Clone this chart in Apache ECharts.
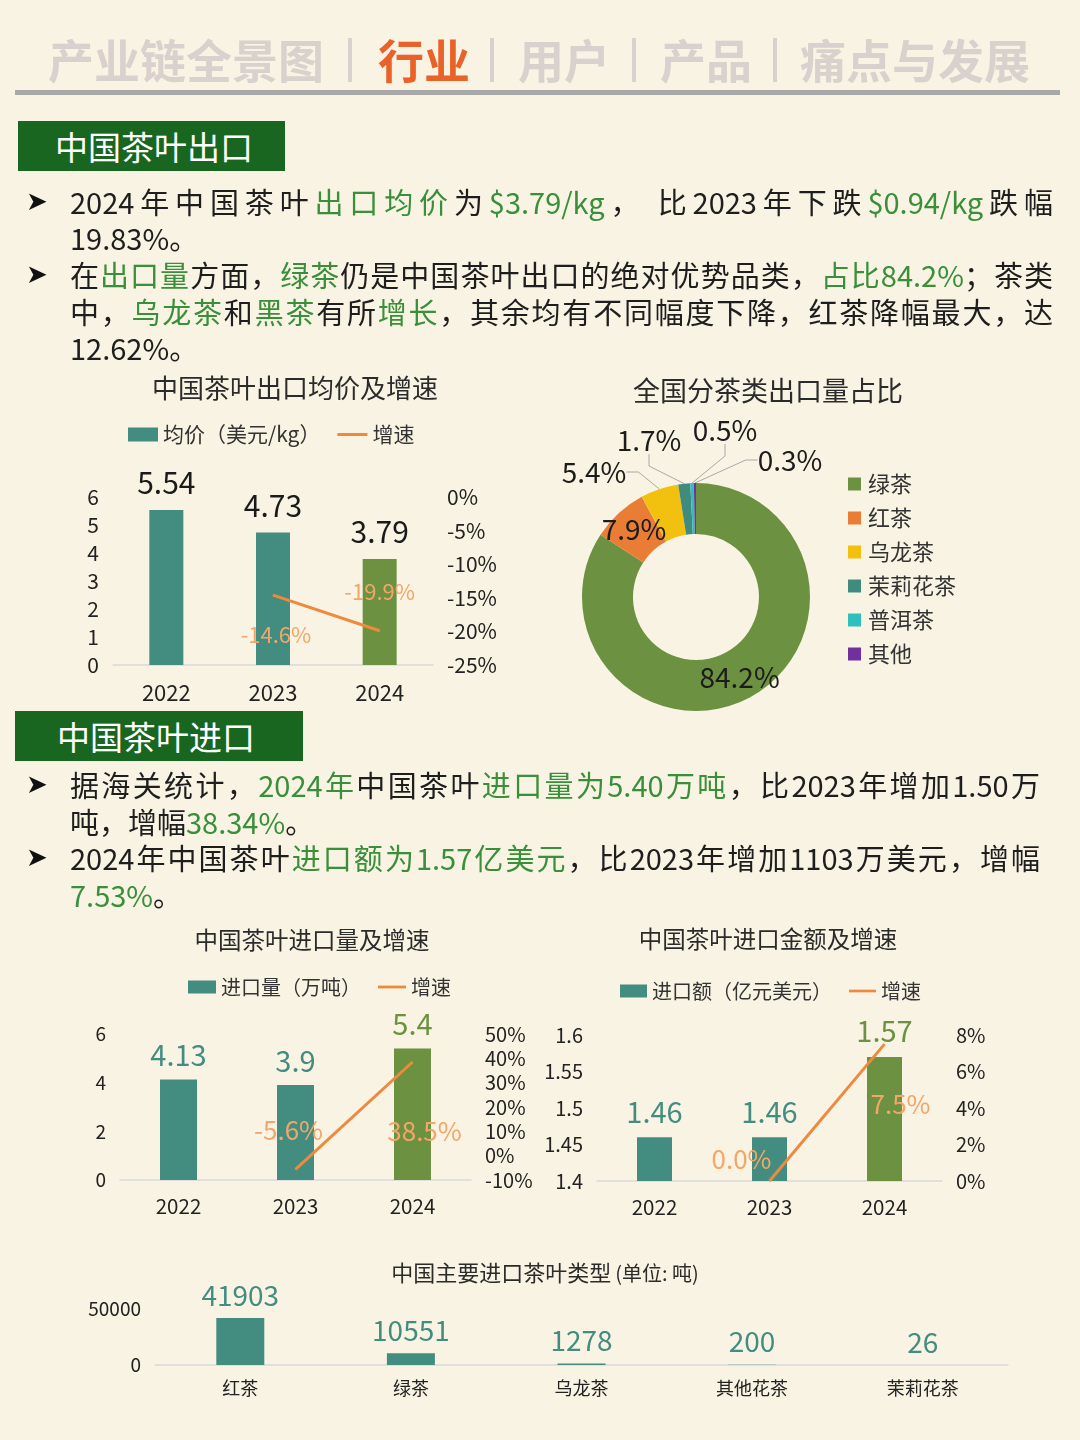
<!DOCTYPE html>
<html>
<head>
<meta charset="utf-8">
<script src="https://cdn.jsdelivr.net/npm/echarts@6/dist/echarts.min.js"></script>
<style>
body { margin: 0; background: #f9f3e3; font-family: "Noto Sans CJK SC", sans-serif; }
#page { position: relative; width: 1080px; height: 1440px; overflow: hidden; }
#main { position: absolute; left: 0; top: 0; width: 1080px; height: 1440px; }
.nav { position: absolute; top: 30px; font-size: 46px; line-height: 56px; color: #d9d1cd; font-weight: bold; white-space: nowrap; }
.sep { position: absolute; top: 38px; width: 4px; height: 44px; background: #d9d1cd; }
.rule { position: absolute; left: 15px; top: 90px; width: 1045px; height: 5px; background: #a8a8a8; }
.box { position: absolute; box-sizing: border-box; background: #18661f; color: #fff; font-size: 33px; line-height: 50px; height: 50px; }
.ln { position: absolute; left: 70px; font-size: 29px; line-height: 36px; height: 36px; color: #1e1e1e; white-space: nowrap; }
.j { text-align: justify; text-align-last: justify; white-space: normal; }
.g { color: #3a8f3a; }
.bul { position: absolute; left: 26px; font-size: 26px; line-height: 30px; color: #111; font-family: "DejaVu Sans", sans-serif; }
</style>
</head>
<body>
<div id="page">
  <div id="main"></div>

  <div class="nav" style="left:48px">产业链全景图</div>
  <div class="sep" style="left:348px"></div>
  <div class="nav" style="left:378px;color:#e8622a">行业</div>
  <div class="sep" style="left:490px"></div>
  <div class="nav" style="left:518px">用户</div>
  <div class="sep" style="left:632px"></div>
  <div class="nav" style="left:660px">产品</div>
  <div class="sep" style="left:773px"></div>
  <div class="nav" style="left:800px">痛点与发展</div>
  <div class="rule"></div>

  <div class="box" style="left:18px;top:121px;width:267px;padding-left:37px">中国茶叶出口</div>
  <div class="bul" style="top:186px">➤</div>
  <div class="ln j" style="top:183px;width:983px">2024年中国茶叶<span class="g">出口均价</span>为<span class="g">$3.79/kg</span>， 比2023年下跌<span class="g">$0.94/kg</span>跌幅</div>
  <div class="ln" style="top:219px">19.83%。</div>
  <div class="bul" style="top:259px">➤</div>
  <div class="ln j" style="top:256px;width:983px">在<span class="g">出口量</span>方面，<span class="g">绿茶</span>仍是中国茶叶出口的绝对优势品类，<span class="g">占比84.2%</span>；茶类</div>
  <div class="ln j" style="top:293px;width:983px">中，<span class="g">乌龙茶</span>和<span class="g">黑茶</span>有所<span class="g">增长</span>，其余均有不同幅度下降，红茶降幅最大，达</div>
  <div class="ln" style="top:329px">12.62%。</div>

  <div class="box" style="left:15px;top:711px;width:288px;padding-left:42px">中国茶叶进口</div>
  <div class="bul" style="top:769px">➤</div>
  <div class="ln j" style="top:766px;width:970px">据海关统计，<span class="g">2024年</span>中国茶叶<span class="g">进口量为5.40万吨</span>，比2023年增加1.50万</div>
  <div class="ln" style="top:803px">吨，增幅<span class="g">38.34%</span>。</div>
  <div class="bul" style="top:842px">➤</div>
  <div class="ln j" style="top:839px;width:970px">2024年中国茶叶<span class="g">进口额为1.57亿美元</span>，比2023年增加1103万美元，增幅</div>
  <div class="ln" style="top:876px"><span class="g">7.53%</span>。</div>
</div>

<script>
// ---- data ----
var exportYears = ['2022', '2023', '2024'];
var exportPrice = [5.54, 4.73, 3.79];
var exportPriceGrowth = [null, -14.6, -19.9];

var exportTypes = ['绿茶', '红茶', '乌龙茶', '茉莉花茶', '普洱茶', '其他'];
var exportShare = [84.2, 7.9, 5.4, 1.7, 0.5, 0.3];

var importYears = ['2022', '2023', '2024'];
var importVolume = [4.13, 3.9, 5.4];
var importVolumeGrowth = [null, -5.6, 38.5];
var importValue = [1.46, 1.46, 1.57];
var importValueGrowth = [null, 0.0, 7.5];

var importTypes = ['红茶', '绿茶', '乌龙茶', '其他花茶', '茉莉花茶'];
var importTypeVolume = [41903, 10551, 1278, 200, 26];

// ---- styles ----
var TEAL = '#438d80';
var GREEN = '#6b9141';
var ORANGE = '#ed8a3f';
var ORANGE_LABEL = '#f2a769';
var pieColors = ['#6b9141', '#ea7d35', '#f2c10f', '#3f8c7e', '#2fbfbf', '#7030a0'];
var LINE_ICON = 'path://M0,0H30V3H0Z';

var chartDom = document.getElementById('main');
var myChart = echarts.init(chartDom);
var option;

// last bar in each yearly chart is drawn green
function yearBars(values, labelColored) {
  return values.map(function (v, i) {
    if (i !== values.length - 1) return v;
    var item = { value: v, itemStyle: { color: GREEN } };
    if (labelColored) item.label = { color: GREEN };
    return item;
  });
}

// growth line labels, placed per point
function growthPoints(values, places) {
  return values.map(function (v, i) {
    if (v === null) return null;
    return { value: v, label: places[i] };
  });
}

function pctLabel(p) {
  return p.value.toFixed(1) + '%';
}

function catAxis(gridIndex, data, fontSize, margin) {
  return {
    type: 'category',
    gridIndex: gridIndex,
    data: data,
    axisTick: { show: false },
    axisLine: { lineStyle: { color: '#d9d9d9', width: 1.5 } },
    axisLabel: { color: '#222', fontSize: fontSize, margin: margin },
  };
}

function valAxis(gridIndex, min, max, interval, fontSize, pct, pos) {
  return {
    type: 'value',
    gridIndex: gridIndex,
    position: pos || 'left',
    min: min,
    max: max,
    interval: interval,
    splitLine: { show: false },
    axisLine: { show: false },
    axisTick: { show: false },
    axisLabel: {
      color: '#222',
      fontSize: fontSize,
      margin: 14,
      formatter: function (v) { return pct ? v + '%' : String(v); },
    },
  };
}

var titleStyle = function (size) {
  return { fontSize: size, fontWeight: 'normal', color: '#2b2b2b' };
};

option = {
  textStyle: { fontFamily: 'Noto Sans CJK SC' },
  animation: false,
  title: [
    { text: '中国茶叶出口均价及增速', left: 295, top: 375, textAlign: 'center', padding: 0, textStyle: titleStyle(26) },
    { text: '全国分茶类出口量占比', left: 768, top: 377, textAlign: 'center', padding: 0, textStyle: titleStyle(27) },
    { text: '中国茶叶进口量及增速', left: 312, top: 928, textAlign: 'center', padding: 0, textStyle: titleStyle(23.5) },
    { text: '中国茶叶进口金额及增速', left: 768, top: 927, textAlign: 'center', padding: 0, textStyle: titleStyle(23.5) },
    {
      text: '{a|中国主要进口茶叶类型} {b|(单位: 吨)}',
      left: 545,
      top: 1262,
      textAlign: 'center',
      padding: 0,
      textStyle: {
        fontWeight: 'normal',
        rich: {
          a: { fontSize: 22, color: '#2b2b2b', fontWeight: 'normal' },
          b: { fontSize: 20, color: '#2b2b2b', fontWeight: 'normal' },
        },
      },
    },
  ],
  legend: [
    {
      left: 128, top: 424, padding: 0, itemWidth: 30, itemHeight: 14, itemGap: 17,
      textStyle: { fontSize: 21, color: '#333' },
      data: [{ name: '均价（美元/kg）', icon: 'rect' }, { name: '增速', icon: LINE_ICON }],
    },
    {
      left: 848, top: 473, padding: 0, orient: 'vertical', itemWidth: 13, itemHeight: 13, itemGap: 12,
      textStyle: { fontSize: 22, color: '#333', padding: [0, 0, 0, 2] },
      data: exportTypes.map(function (n) { return { name: n, icon: 'rect' }; }),
    },
    {
      left: 188, top: 977, padding: 0, itemWidth: 28, itemHeight: 13, itemGap: 17,
      textStyle: { fontSize: 20, color: '#333' },
      data: [{ name: '进口量（万吨）', icon: 'rect' }, { name: '增速', icon: LINE_ICON }],
    },
    {
      left: 620, top: 981, padding: 0, itemWidth: 27, itemHeight: 13, itemGap: 17,
      textStyle: { fontSize: 20, color: '#333' },
      data: [{ name: '进口额（亿元美元）', icon: 'rect' }, { name: '增速', icon: LINE_ICON }],
    },
  ],
  grid: [
    { left: 113, top: 497, width: 320, height: 168 },
    { left: 120, top: 1034, width: 351, height: 146 },
    { left: 597, top: 1035, width: 345, height: 146 },
    { left: 155, top: 1309, width: 853, height: 56 },
  ],
  xAxis: [
    catAxis(0, exportYears, 22, 17),
    catAxis(1, importYears, 20.5, 16),
    catAxis(2, importYears, 20.5, 16),
    catAxis(3, importTypes, 18, 14),
  ],
  yAxis: [
    valAxis(0, 0, 6, 1, 21, false),
    valAxis(0, -25, 0, 5, 21, true, 'right'),
    valAxis(1, 0, 6, 2, 19, false),
    valAxis(1, -10, 50, 10, 20, true, 'right'),
    valAxis(2, 1.4, 1.6, 0.05, 20, false),
    valAxis(2, 0, 8, 2, 20, true, 'right'),
    valAxis(3, 0, 50000, 50000, 19, false),
  ],
  series: [
    // export price
    {
      name: '均价（美元/kg）',
      type: 'bar',
      xAxisIndex: 0,
      yAxisIndex: 0,
      barWidth: 34,
      itemStyle: { color: TEAL },
      label: { show: true, position: 'top', distance: 12, fontSize: 30, color: '#1a1a1a' },
      data: yearBars(exportPrice, false),
    },
    {
      name: '增速',
      type: 'line',
      xAxisIndex: 0,
      yAxisIndex: 1,
      symbol: 'circle',
      symbolSize: 1,
      z: 5,
      lineStyle: { color: ORANGE, width: 3 },
      itemStyle: { color: ORANGE },
      label: { show: true, fontSize: 22, color: ORANGE_LABEL, formatter: pctLabel },
      data: growthPoints(exportPriceGrowth, [
        null,
        { position: 'bottom', distance: 28, offset: [3, 0] },
        { position: 'top', distance: 28 },
      ]),
    },
    // export share donut
    {
      name: '出口量占比',
      type: 'pie',
      center: [696, 597],
      radius: [63, 114],
      startAngle: 90,
      clockwise: true,
      avoidLabelOverlap: false,
      label: { show: true, fontSize: 28, color: '#1c1c1c', formatter: '{c}%' },
      labelLine: { show: true, length: 12, length2: 12, lineStyle: { color: '#a8a8a8', width: 1 } },
      labelLayout: function (p) {
        var spots = { 2: [594, 472], 3: [649, 440], 4: [725, 430], 5: [790, 460] };
        var s = spots[p.dataIndex];
        return s ? { x: s[0], y: s[1], align: 'center', verticalAlign: 'middle' } : {};
      },
      data: exportTypes.map(function (n, i) {
        var item = { name: n, value: exportShare[i], itemStyle: { color: pieColors[i] } };
        if (i < 2) {
          item.label = { position: 'inside' };
          item.labelLine = { show: false };
        }
        return item;
      }),
    },
    // import volume
    {
      name: '进口量（万吨）',
      type: 'bar',
      xAxisIndex: 1,
      yAxisIndex: 2,
      barWidth: 37,
      itemStyle: { color: TEAL },
      label: { show: true, position: 'top', distance: 10, fontSize: 29, color: TEAL },
      data: yearBars(importVolume, true),
    },
    {
      name: '增速',
      type: 'line',
      xAxisIndex: 1,
      yAxisIndex: 3,
      symbol: 'circle',
      symbolSize: 1,
      z: 5,
      lineStyle: { color: ORANGE, width: 3 },
      itemStyle: { color: ORANGE },
      label: { show: true, fontSize: 26, color: ORANGE_LABEL, formatter: pctLabel },
      data: growthPoints(importVolumeGrowth, [
        null,
        { position: 'top', distance: 26, offset: [-7, 0] },
        { position: 'bottom', distance: 56, offset: [12, 0] },
      ]),
    },
    // import value
    {
      name: '进口额（亿元美元）',
      type: 'bar',
      xAxisIndex: 2,
      yAxisIndex: 4,
      barWidth: 35,
      itemStyle: { color: TEAL },
      label: { show: true, position: 'top', distance: 11, fontSize: 29, color: TEAL },
      data: yearBars(importValue, true),
    },
    {
      name: '增速',
      type: 'line',
      xAxisIndex: 2,
      yAxisIndex: 5,
      symbol: 'circle',
      symbolSize: 1,
      z: 5,
      lineStyle: { color: ORANGE, width: 3 },
      itemStyle: { color: ORANGE },
      label: { show: true, fontSize: 26, color: ORANGE_LABEL, formatter: pctLabel },
      data: growthPoints(importValueGrowth, [
        null,
        { position: 'top', distance: 8, offset: [-28, 0] },
        { position: 'bottom', distance: 46, offset: [16, 0] },
      ]),
    },
    // import types
    {
      name: '进口类型',
      type: 'bar',
      xAxisIndex: 3,
      yAxisIndex: 6,
      barWidth: 48,
      itemStyle: { color: TEAL },
      label: { show: true, position: 'top', distance: 9, fontSize: 28, color: TEAL },
      data: importTypeVolume,
    },
  ],
};

option && myChart.setOption(option);

window.onresize = function () {
  myChart.resize();
};
</script>
</body>
</html>
